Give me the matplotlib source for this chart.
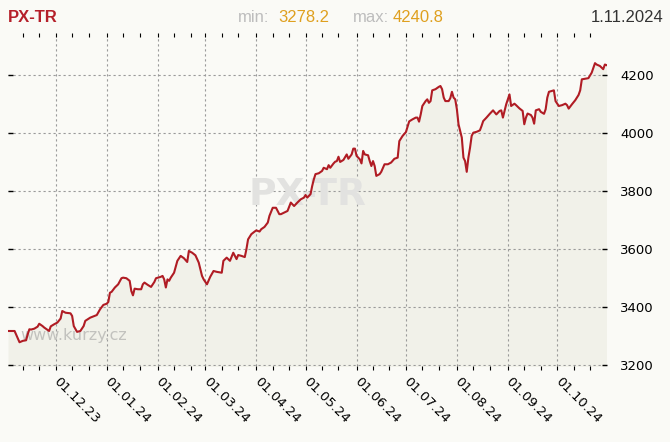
import matplotlib
matplotlib.use('Agg')
import matplotlib.pyplot as plt
import matplotlib.dates as mdates
import pandas as pd

# PX-TR index, one year
dates = [
    '2023-11-02', '2023-11-06', '2023-11-09', '2023-11-11', '2023-11-13', '2023-11-14',
    '2023-11-15', '2023-11-16', '2023-11-18', '2023-11-20', '2023-11-21', '2023-11-23',
    '2023-11-24', '2023-11-27', '2023-11-28', '2023-11-30',
    '2023-12-02', '2023-12-04', '2023-12-05', '2023-12-07', '2023-12-10', '2023-12-11',
    '2023-12-12', '2023-12-14', '2023-12-16', '2023-12-18', '2023-12-19', '2023-12-22',
    '2023-12-26', '2023-12-28', '2023-12-30',
    '2024-01-01', '2024-01-02', '2024-01-03', '2024-01-04', '2024-01-06', '2024-01-08',
    '2024-01-10', '2024-01-11', '2024-01-13', '2024-01-15', '2024-01-16', '2024-01-17',
    '2024-01-18', '2024-01-20', '2024-01-22', '2024-01-23', '2024-01-24', '2024-01-26',
    '2024-01-28', '2024-01-30', '2024-01-31',
    '2024-02-03', '2024-02-04', '2024-02-05', '2024-02-06', '2024-02-07', '2024-02-08',
    '2024-02-09', '2024-02-11', '2024-02-13', '2024-02-15', '2024-02-17', '2024-02-19',
    '2024-02-20', '2024-02-22', '2024-02-24', '2024-02-26', '2024-02-28', '2024-02-29',
    '2024-03-02', '2024-03-04', '2024-03-06', '2024-03-08', '2024-03-11', '2024-03-12',
    '2024-03-14', '2024-03-16', '2024-03-18', '2024-03-20', '2024-03-21', '2024-03-23',
    '2024-03-25', '2024-03-26', '2024-03-27', '2024-03-29', '2024-03-31',
    '2024-04-01', '2024-04-03', '2024-04-04', '2024-04-06', '2024-04-08', '2024-04-09',
    '2024-04-11', '2024-04-13', '2024-04-15', '2024-04-16', '2024-04-20', '2024-04-22',
    '2024-04-24', '2024-04-26', '2024-04-28', '2024-04-30',
    '2024-05-01', '2024-05-02', '2024-05-04', '2024-05-05', '2024-05-06', '2024-05-07',
    '2024-05-09', '2024-05-11', '2024-05-12', '2024-05-14', '2024-05-15', '2024-05-16',
    '2024-05-18', '2024-05-19', '2024-05-20', '2024-05-21', '2024-05-22', '2024-05-24',
    '2024-05-26', '2024-05-27', '2024-05-29', '2024-05-30', '2024-05-31',
    '2024-06-01', '2024-06-03', '2024-06-04', '2024-06-05', '2024-06-06', '2024-06-08',
    '2024-06-09', '2024-06-10', '2024-06-11', '2024-06-12', '2024-06-13', '2024-06-15',
    '2024-06-16', '2024-06-18', '2024-06-20', '2024-06-22', '2024-06-24', '2024-06-26',
    '2024-06-27', '2024-06-29',
    '2024-07-01', '2024-07-03', '2024-07-05', '2024-07-07', '2024-07-08', '2024-07-09',
    '2024-07-10', '2024-07-11', '2024-07-13', '2024-07-14', '2024-07-15', '2024-07-16',
    '2024-07-17', '2024-07-19', '2024-07-21', '2024-07-22', '2024-07-23', '2024-07-24',
    '2024-07-25', '2024-07-27', '2024-07-28', '2024-07-29', '2024-07-30', '2024-07-31',
    '2024-08-01', '2024-08-02', '2024-08-04', '2024-08-05', '2024-08-06', '2024-08-07',
    '2024-08-08', '2024-08-09', '2024-08-10', '2024-08-11', '2024-08-13', '2024-08-15',
    '2024-08-16', '2024-08-17', '2024-08-19', '2024-08-21', '2024-08-23', '2024-08-25',
    '2024-08-27', '2024-08-28', '2024-08-29', '2024-08-30', '2024-08-31',
    '2024-09-01', '2024-09-02', '2024-09-03', '2024-09-05', '2024-09-06', '2024-09-08',
    '2024-09-10', '2024-09-11', '2024-09-12', '2024-09-13', '2024-09-15', '2024-09-16',
    '2024-09-17', '2024-09-18', '2024-09-20', '2024-09-21', '2024-09-23', '2024-09-24',
    '2024-09-25', '2024-09-26', '2024-09-29', '2024-09-30',
    '2024-10-02', '2024-10-04', '2024-10-06', '2024-10-07', '2024-10-08', '2024-10-10',
    '2024-10-12', '2024-10-14', '2024-10-15', '2024-10-16', '2024-10-20', '2024-10-22',
    '2024-10-24', '2024-10-25', '2024-10-27', '2024-10-29', '2024-10-30', '2024-10-31',
]
values = [
    3317, 3317, 3278.2, 3283, 3285, 3306,
    3323, 3322, 3325, 3332, 3342, 3334,
    3329, 3317, 3333, 3340,
    3346, 3360, 3386, 3380, 3378, 3369,
    3334, 3314, 3317, 3334, 3352, 3363,
    3372, 3392, 3407,
    3411, 3417, 3449, 3452, 3467, 3478,
    3499, 3501, 3499, 3490, 3455, 3440,
    3463, 3461, 3461, 3478, 3484, 3476,
    3469, 3486, 3499,
    3504, 3507, 3495, 3467, 3495, 3490,
    3501, 3518, 3559, 3576, 3568, 3555,
    3593, 3587, 3578, 3553, 3507, 3495,
    3478, 3504, 3524, 3521, 3518, 3559,
    3570, 3559, 3587, 3565, 3579, 3576,
    3572, 3599, 3633, 3651, 3660,
    3664, 3660, 3668, 3676, 3691, 3714,
    3742, 3742, 3720, 3720, 3731, 3760,
    3748, 3760, 3771, 3777,
    3786, 3777, 3789, 3817, 3840, 3858,
    3861, 3869, 3880, 3875, 3889, 3880,
    3895, 3901, 3903, 3918, 3900, 3907,
    3926, 3911, 3926, 3946, 3946,
    3921, 3909, 3895, 3938, 3926, 3923,
    3903, 3886, 3903, 3886, 3852, 3858,
    3866, 3892, 3892, 3898, 3911, 3915,
    3972, 3990,
    4003, 4040, 4047, 4053, 4053, 4039,
    4064, 4093, 4110, 4116, 4104, 4110,
    4147, 4151, 4159, 4162, 4151, 4122,
    4110, 4110, 4120, 4142, 4122, 4116,
    4082, 4030, 3984, 3915, 3903, 3866,
    3915, 3949, 3990, 4001, 4004, 4009,
    4024, 4041, 4053, 4066, 4078, 4064,
    4076, 4078, 4053, 4076, 4099,
    4116, 4133, 4093, 4101, 4096, 4085,
    4076, 4030, 4053, 4067, 4062, 4053,
    4032, 4078, 4082, 4073, 4066, 4082,
    4122, 4142, 4147, 4110,
    4093, 4096, 4101, 4096, 4084, 4099,
    4113, 4131, 4147, 4185, 4189, 4208,
    4240.8, 4236, 4231, 4220, 4236, 4234,
]

title = 'PX-TR'
date_label = '1.11.2024'
min_val = '3278.2'
max_val = '4240.8'
yticks = [3200, 3400, 3600, 3800, 4000, 4200]

BG = '#fafaf6'
FILL = '#f1f1e9'
LINE = '#b01c24'
GOLD = '#dfa01f'

x = pd.to_datetime(dates)

W, H = 670, 442
fig = plt.figure(figsize=(W / 100, H / 100), dpi=100, facecolor=BG)
ax = fig.add_axes([8 / W, 1 - 365.5 / H, 598.5 / W, 328.5 / H])
ax.set_facecolor(BG)

ax.fill_between(x, values, 3000, color=FILL, lw=0, zorder=1)
ax.plot(x, values, color=LINE, lw=1.5, zorder=3)

ax.set_xlim(pd.Timestamp('2023-11-02'), pd.Timestamp('2024-10-31'))
ax.set_ylim(3198, 4331)

for s in ax.spines.values():
    s.set_visible(False)

ax.xaxis.set_major_locator(mdates.MonthLocator(bymonthday=1))
ax.xaxis.set_minor_locator(mdates.DayLocator(bymonthday=[11, 21]))
ax.xaxis.set_major_formatter(mdates.DateFormatter('%d.%m.%y'))
ax.set_yticks(yticks)

ax.tick_params(axis='x', which='both', direction='out', length=3, width=0.8,
               color='black', top=True, bottom=True, labelsize=9.5, pad=7)
ax.tick_params(axis='y', which='both', direction='in', length=3.5, width=1,
               color='black', left=True, right=True, labelleft=False,
               labelright=True, labelsize=9.5, pad=10)
for lab in ax.get_xticklabels():
    lab.set_rotation(-45)
    lab.set_ha('left')
    lab.set_va('center')
    lab.set_rotation_mode('anchor')

ax.grid(True, which='major', color='#9a9a9a', lw=0.8, ls=(0, (2, 2.5)), zorder=2)

# watermarks
ax.text(0.5, 0.52, title, transform=ax.transAxes, fontsize=27, fontweight='bold',
        color='#e2e2e0', ha='center', va='center', zorder=2)
ax.text(0.02, 0.09, 'www.kurzy.cz', transform=ax.transAxes, fontsize=11.5,
        color='#c2c2be', ha='left', va='center', zorder=2)

# header
hdr = dict(family='Liberation Sans', fontsize=12, va='baseline')
fig.text(8 / W, 1 - 22 / H, title, color='#b5202a', fontweight='bold', **hdr)
fig.text(238 / W, 1 - 22 / H, 'min:', color='#bdbdbd', **hdr)
fig.text(278 / W, 1 - 22 / H, min_val, color=GOLD, **hdr)
fig.text(353 / W, 1 - 22 / H, 'max:', color='#bdbdbd', **hdr)
fig.text(393 / W, 1 - 22 / H, max_val, color=GOLD, **hdr)
fig.text(663 / W, 1 - 22 / H, date_label, color='#333333', ha='right', **hdr)

fig.savefig('out.png', dpi=100, facecolor=BG)
